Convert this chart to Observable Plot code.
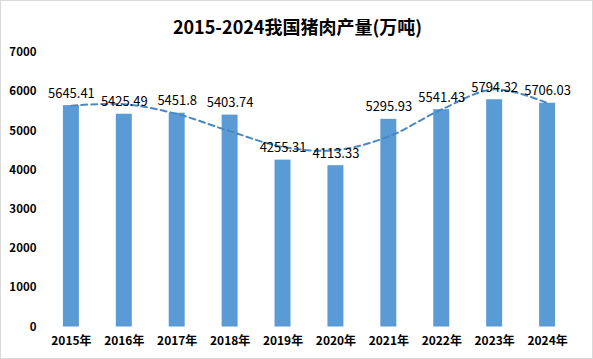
<!DOCTYPE html>
<html>
<head>
<meta charset="utf-8">
<script src="https://cdn.jsdelivr.net/npm/d3@7"></script>
<script src="https://cdn.jsdelivr.net/npm/@observablehq/plot@0.6"></script>
<style>
  body { margin: 0; background: #fff; }
  #wrap { position: relative; width: 593px; height: 359px; box-sizing: border-box; border: 1px solid #d9d9d9; overflow: hidden; background: #fff; }
  #title { position: absolute; top: 12px; left: 0; width: 593px; text-align: center; font-family: "Noto Sans CJK SC", "Noto Sans", sans-serif; font-weight: bold; font-size: 18px; color: #000; line-height: 26px; }
  #chart { position: absolute; top: 40px; left: -1px; }
</style>
</head>
<body>
<div id="wrap">
  <div id="title">2015-2024我国猪肉产量(万吨)</div>
  <div id="chart"></div>
</div>
<script>
const years = ["2015年","2016年","2017年","2018年","2019年","2020年","2021年","2022年","2023年","2024年"];
const production = [5645.41, 5425.49, 5451.8, 5403.74, 4255.31, 4113.33, 5295.93, 5541.43, 5794.32, 5706.03];
// dashed trend line
const trend = [5645, 5680, 5430, 4990, 4590, 4510, 4860, 5550, 6060, 5706];
const yTicks = [0, 1000, 2000, 3000, 4000, 5000, 6000, 7000];

const data = years.map((y, i) => ({year: y, value: production[i], trend: trend[i]}));
const font = '"Noto Sans CJK SC", "Noto Sans", sans-serif';

const chart = Plot.plot({
  width: 593,
  height: 319,
  marginTop: 11,
  marginBottom: 33,
  marginLeft: 43,
  marginRight: 16,
  style: {fontFamily: font, fontSize: "11px", color: "#000", background: "transparent"},
  x: {domain: years, paddingInner: 0.69, paddingOuter: 0.345, label: null},
  y: {domain: [0, 7000], label: null},
  marks: [
    Plot.gridY(yTicks, {stroke: "#d9d9d9", strokeOpacity: 1, x1: 44, x2: 577, strokeWidth: 1}),
    Plot.axisY({ticks: yTicks, tickFormat: d => String(d), tickSize: 0, tickPadding: 7, fontWeight: "bold", fontSize: 11.5, label: null}),
    Plot.axisX({tickSize: 0, tickPadding: 9, fontWeight: "bold", fontSize: 12, label: null}),
    Plot.barY(data, {x: "year", y: "value", fill: "#5b9bd5"}),
    Plot.line(data, {x: "year", y: "trend", stroke: "#4a88c2", strokeWidth: 2, strokeDasharray: "6,4", curve: "catmull-rom"}),
    Plot.text(data, {x: "year", y: "value", text: d => String(d.value), dy: -8, lineAnchor: "bottom", fontSize: 13, fill: "#000"})
  ]
});
document.getElementById("chart").appendChild(chart);
</script>
</body>
</html>
